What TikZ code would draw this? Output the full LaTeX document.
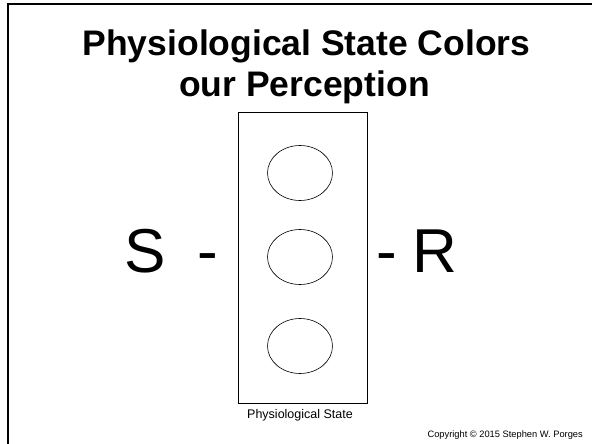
\documentclass[tikz,border=0pt]{standalone}
\usepackage{fontspec}
\usetikzlibrary{shapes.geometric}
\setmainfont{Liberation Sans}
\begin{document}
\begin{tikzpicture}[x=1pt,y=-1pt,
  titletext/.style={font=\fontsize{35.5}{40}\selectfont\bfseries, inner sep=0pt, anchor=base},
  bigtext/.style={font=\fontsize{62}{70}\selectfont, inner sep=0pt, anchor=base},
  statecircle/.style={draw, ellipse, line width=0.6pt, minimum width=65pt, minimum height=55pt, inner sep=0pt},
  smalltext/.style={inner sep=0pt, anchor=base}]
\useasboundingbox (0,0) rectangle (592,444);
\fill[white] (0,0) rectangle (592,444);
% frame
\coordinate (fl) at (8,444);
\coordinate (fc) at (8,4);
\coordinate (fr) at (592,4);
\draw[line width=2pt] (fl) -- (fc) -- (fr);
% title
\node[titletext] (t1) at (306.5,56) {Physiological State Colors};
\node[titletext] (t2) at (304.5,96) {our Perception};
% box
\node[draw, line width=0.7pt, minimum width=129pt, minimum height=291pt, inner sep=0pt] (box) at (302.5,257.5) {};
\node[statecircle] (c1) at (300,173) {};
\node[statecircle] (c2) at (300,257) {};
\node[statecircle] (c3) at (300,346) {};
\node[smalltext, font=\fontsize{12.5}{14}\selectfont] (lab) at (300,418) {Physiological State};
% S - R
\node[bigtext] (s) at (145,272) {S};
\node[bigtext] (d1) at (208,272) {-};
\node[bigtext] (d2) at (387,272) {-};
\node[bigtext] (r) at (435,272) {R};
% copyright
\node[smalltext, font=\fontsize{9.3}{11}\selectfont, anchor=base east] (copy) at (583,437) {Copyright © 2015 Stephen W. Porges};
\end{tikzpicture}
\end{document}
